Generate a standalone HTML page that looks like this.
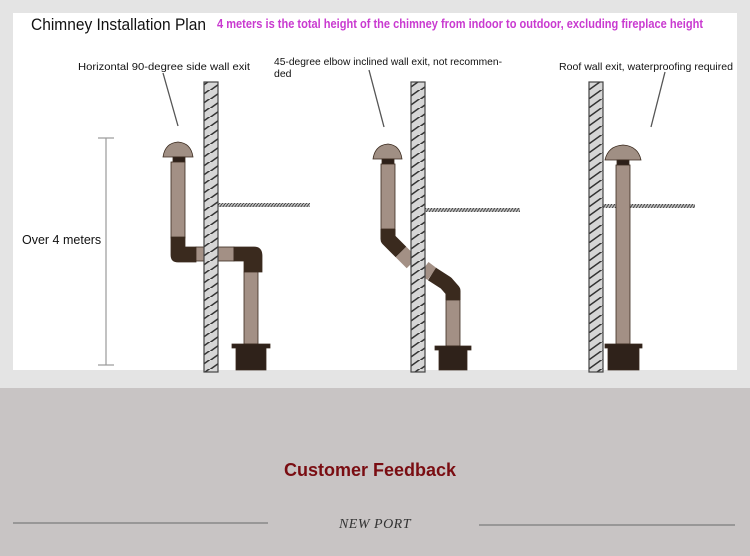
<!DOCTYPE html>
<html><head><meta charset="utf-8"><style>
html,body{margin:0;padding:0;width:750px;height:556px;overflow:hidden;background:#c8c4c4}
svg{display:block}
</style></head><body>
<svg width="750" height="556" viewBox="0 0 750 556" xmlns="http://www.w3.org/2000/svg">
<defs>
<pattern id="hatch" patternUnits="userSpaceOnUse" width="14" height="9">
<rect width="14" height="9" fill="#d6d6d6"/>
<path d="M-2,11 L16,-2" stroke="#333" stroke-width="1.5"/>
</pattern>
<pattern id="floor" patternUnits="userSpaceOnUse" width="3" height="4">
<rect width="3" height="4" fill="#bbb"/><path d="M0,4 L3,0" stroke="#333" stroke-width="0.8"/>
</pattern>
</defs>
<rect x="0" y="0" width="750" height="388" fill="#e4e4e4"/>
<rect x="13" y="13" width="724" height="357" fill="#fff"/>
<text x="31" y="30" font-family="Liberation Sans, sans-serif" font-size="16.5" fill="#111" textLength="175" lengthAdjust="spacingAndGlyphs">Chimney Installation Plan</text>
<text x="217" y="28" font-family="Liberation Sans, sans-serif" font-size="12.5" font-weight="bold" fill="#c93ad0" textLength="486" lengthAdjust="spacingAndGlyphs">4 meters is the total height of the chimney from indoor to outdoor, excluding fireplace height</text>
<g font-family="Liberation Sans, sans-serif" font-size="10.5" fill="#111">
<text x="78" y="70" textLength="172" lengthAdjust="spacingAndGlyphs">Horizontal 90-degree side wall exit</text>
<text x="274" y="65" textLength="228" lengthAdjust="spacingAndGlyphs">45-degree elbow inclined wall exit, not recommen-</text>
<text x="274" y="77">ded</text>
<text x="559" y="70" textLength="174" lengthAdjust="spacingAndGlyphs">Roof wall exit, waterproofing required</text>
</g>
<g stroke="#555" stroke-width="1.3">
<line x1="163" y1="73" x2="178" y2="126"/>
<line x1="369" y1="70" x2="384" y2="127"/>
<line x1="665" y1="72" x2="651" y2="127"/>
</g>
<g stroke="#999" stroke-width="1.2">
<line x1="106" y1="138" x2="106" y2="365"/>
<line x1="98" y1="138" x2="114" y2="138"/>
<line x1="98" y1="365" x2="114" y2="365"/>
</g>
<text x="22" y="244" font-family="Liberation Sans, sans-serif" font-size="12.5" fill="#111">Over 4 meters</text>
<rect x="218" y="203" width="92" height="4" fill="url(#floor)"/>
<rect x="425" y="208" width="95" height="4" fill="url(#floor)"/>
<rect x="603" y="204" width="92" height="4" fill="url(#floor)"/>
<g stroke="#3a2a1e" stroke-width="0.8">
<path d="M163,157 Q165,143 178,142 Q191,143 193,157 Z" fill="#a08f84"/>
<rect x="173" y="157" width="12" height="5" fill="#2d2019"/>
<rect x="171" y="162" width="14" height="76" fill="#a39085"/>
<path d="M171,237 H185 V247 H196 V262 H178 Q171,262 171,255 Z" fill="#3a2a1e"/>
<rect x="196" y="247" width="8" height="14" fill="#a39085"/>
<rect x="218" y="247" width="16" height="14" fill="#a39085"/>
<path d="M234,247 H254 Q262,247 262,256 V272 H244 V261 H234 Z" fill="#3a2a1e"/>
<rect x="244" y="272" width="14" height="72" fill="#a39085"/>
<path d="M232,344 H270 V348 H266 V370 H236 V348 H232 Z" fill="#2f221a"/>
</g>
<g stroke="#3a2a1e" stroke-width="0.8">
<path d="M373,159 Q375,145 388,144 Q400,145 402,159 Z" fill="#a08f84"/>
<rect x="382" y="159" width="12" height="5" fill="#2d2019"/>
<rect x="381" y="164" width="14" height="65" fill="#a39085"/>
</g>
<path d="M388,229 L388,239 L401,252" stroke="#3a2a1e" stroke-width="15" fill="none" stroke-linejoin="round"/>
<path d="M401,252 L412,263" stroke="#a39085" stroke-width="15" fill="none"/>
<path d="M424,268 L432,274" stroke="#a39085" stroke-width="15" fill="none"/>
<path d="M432,274 L446,283 L453,291 L453,300" stroke="#3a2a1e" stroke-width="15" fill="none" stroke-linejoin="round"/>
<g stroke="#3a2a1e" stroke-width="0.8">
<rect x="446" y="300" width="14" height="46" fill="#a39085"/>
<path d="M435,346 H471 V350 H467 V370 H439 V350 H435 Z" fill="#2f221a"/>
</g>
<g stroke="#3a2a1e" stroke-width="0.8">
<path d="M605,160 Q608,146 623,145 Q638,146 641,160 Z" fill="#a08f84"/>
<rect x="617" y="160" width="12" height="5" fill="#2d2019"/>
<rect x="616" y="165" width="14" height="179" fill="#a39085"/>
<path d="M605,344 H642 V348 H639 V370 H608 V348 H605 Z" fill="#2f221a"/>
</g>
<g stroke="#444" stroke-width="1.2">
<rect x="204" y="82" width="14" height="290" fill="url(#hatch)"/>
<rect x="411" y="82" width="14" height="290" fill="url(#hatch)"/>
<rect x="589" y="82" width="14" height="290" fill="url(#hatch)"/>
</g>
<text x="370" y="476" text-anchor="middle" font-family="Liberation Sans, sans-serif" font-size="18" font-weight="bold" fill="#7a0d12">Customer Feedback</text>
<line x1="13" y1="523" x2="268" y2="523" stroke="#888" stroke-width="1.5"/>
<line x1="479" y1="525" x2="735" y2="525" stroke="#888" stroke-width="1.5"/>
<text x="375" y="528" text-anchor="middle" font-family="Liberation Serif, serif" font-style="italic" font-size="14" fill="#333" letter-spacing="0.5">NEW PORT</text>
</svg>
</body></html>
